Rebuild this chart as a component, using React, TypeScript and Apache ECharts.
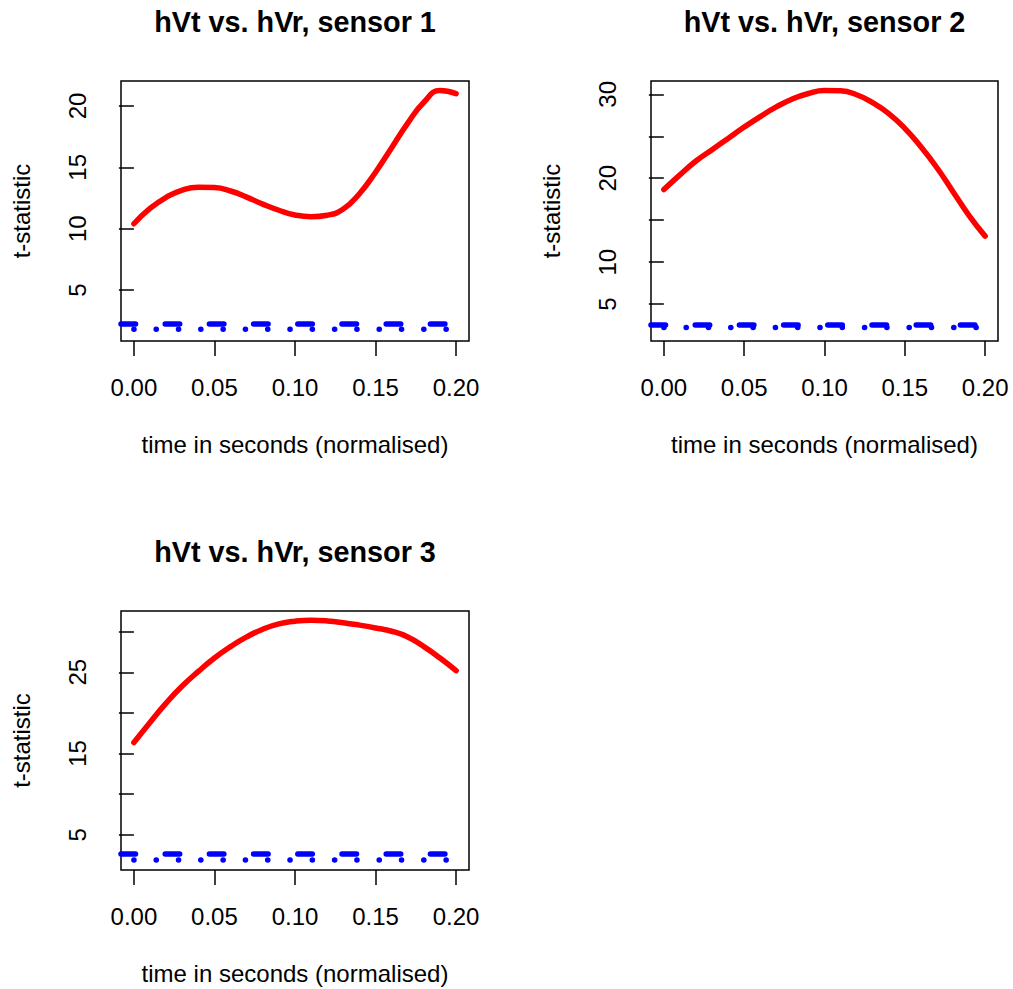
import React, { useEffect, useRef } from "react";
import * as echarts from "echarts";

// ---- data ----
const timeSec = [0, 0.01, 0.02, 0.03, 0.04, 0.05, 0.06, 0.07, 0.08, 0.09, 0.1, 0.11, 0.12, 0.13, 0.14, 0.15, 0.16, 0.17, 0.18, 0.19, 0.2];
const sensor1T = [10.4, 11.65, 12.55, 13.15, 13.38, 13.35, 13.07, 12.57, 12.0, 11.5, 11.12, 10.98, 11.1, 11.6, 12.85, 14.6, 16.6, 18.6, 20.3, 21.25, 21.0];
const sensor2T = [18.65, 20.4, 22.05, 23.4, 24.75, 26.1, 27.35, 28.5, 29.45, 30.1, 30.45, 30.42, 29.95, 29.0, 27.7, 25.95, 23.75, 21.25, 18.4, 15.55, 13.1];
const sensor3T = [16.35, 18.82, 21.2, 23.3, 25.1, 26.75, 28.15, 29.35, 30.3, 30.95, 31.28, 31.4, 31.32, 31.1, 30.8, 30.45, 30.05, 29.35, 28.15, 26.75, 25.2];
const critUpper = [2.29, 2.5, 2.7];
const critLower = [1.8, 2.2, 1.9];

const panelTitles = ["hVt vs. hVr, sensor 1", "hVt vs. hVr, sensor 2", "hVt vs. hVr, sensor 3"];
const xAxisTitle = "time in seconds (normalised)";
const yAxisTitle = "t-statistic";
const xTicks = [0, 0.05, 0.1, 0.15, 0.2];
const yTicks1 = [5, 10, 15, 20];
const yTicks2 = [5, 10, 15, 20, 25, 30];
const yTicks3 = [5, 10, 15, 20, 25, 30];
const yLabels1 = [5, 10, 15, 20];
const yLabels2 = [5, 10, 20, 30];
const yLabels3 = [5, 15, 25];
const xRange = [-0.008, 0.208];
const yRange1 = [0.85, 22.03];
const yRange2 = [0.6, 31.59];
const yRange3 = [0.66, 32.54];

const FONT = "'Liberation Sans', Arial, Helvetica, sans-serif";

export default function App() {
  const ref = useRef<HTMLDivElement>(null);

  useEffect(() => {
    if (!ref.current) return;
    const chart = echarts.init(ref.current, null, { renderer: "svg" });

    const sensors = [sensor1T, sensor2T, sensor3T];
    const yTicks = [yTicks1, yTicks2, yTicks3];
    const yLabels = [yLabels1, yLabels2, yLabels3];
    const yRanges = [yRange1, yRange2, yRange3];
    const grids = [
      { left: 121, top: 81, width: 348, height: 260 },
      { left: 651, top: 81, width: 347, height: 260 },
      { left: 121, top: 611, width: 348, height: 259 },
    ];

    const option: any = {
      animation: false,
      backgroundColor: "#fff",
      grid: grids.map((g) => ({
        ...g,
        show: true,
        borderColor: "#000",
        borderWidth: 1.5,
        backgroundColor: "transparent",
        containLabel: false,
      })),
      xAxis: grids.map((_, i) => ({
        gridIndex: i,
        type: "value",
        min: xRange[0],
        max: xRange[1],
        axisLine: { show: false },
        splitLine: { show: false },
        axisTick: {
          show: true,
          length: 15,
          customValues: xTicks,
          lineStyle: { color: "#000", width: 1.5 },
        },
        axisLabel: {
          customValues: xTicks,
          formatter: (v: number) => v.toFixed(2),
          fontSize: 24,
          fontFamily: FONT,
          color: "#000",
          margin: 34,
        },
        name: xAxisTitle,
        nameLocation: "middle",
        nameGap: 91,
        nameTextStyle: { fontSize: 24, fontFamily: FONT, color: "#000" },
      })),
      yAxis: grids.map((_, i) => ({
        gridIndex: i,
        type: "value",
        min: yRanges[i][0],
        max: yRanges[i][1],
        axisLine: { show: false },
        splitLine: { show: false },
        axisTick: {
          show: true,
          length: 15,
          customValues: yTicks[i],
          lineStyle: { color: "#000", width: 1.5 },
        },
        axisLabel: {
          customValues: yLabels[i],
          rotate: 90,
          fontSize: 24,
          fontFamily: FONT,
          color: "#000",
          margin: 32,
        },
        name: yAxisTitle,
        nameLocation: "middle",
        nameGap: 88,
        nameRotate: 90,
        nameTextStyle: { fontSize: 24, fontFamily: FONT, color: "#000" },
      })),
      series: grids.flatMap((_, i) => [
        {
          type: "line",
          xAxisIndex: i,
          yAxisIndex: i,
          data: timeSec.map((t, k) => [t, sensors[i][k]]),
          smooth: 0.5,
          symbol: "none",
          lineStyle: { color: "#FF0000", width: 5.5, cap: "round" },
          z: 3,
        },
        {
          type: "line",
          xAxisIndex: i,
          yAxisIndex: i,
          data: [
            [timeSec[0], critLower[i]],
            [timeSec[timeSec.length - 1], critLower[i]],
          ],
          symbol: "none",
          lineStyle: { color: "#0000FF", width: 5.5, type: [0.1, 22.2], cap: "round" },
          markLine: {
            silent: true,
            symbol: ["none", "none"],
            label: { show: false },
            data: [{ yAxis: critUpper[i] }],
            lineStyle: { color: "#0000FF", width: 5.5, type: [14.5, 29.7], cap: "round" },
          },
          z: 2,
        },
      ]),
      graphic: grids.map((g, i) => ({
        type: "text",
        x: g.left + g.width / 2,
        y: g.top - 59,
        style: {
          text: panelTitles[i],
          fontSize: 28.8,
          fontWeight: "bold",
          fontFamily: FONT,
          fill: "#000",
          align: "center",
          verticalAlign: "middle",
        },
      })),
    };

    chart.setOption(option);
    return () => chart.dispose();
  }, []);

  return (
    <div
      ref={ref}
      style={{ position: "absolute", left: 0, top: 0, width: 1013, height: 989, background: "#fff" }}
    />
  );
}
